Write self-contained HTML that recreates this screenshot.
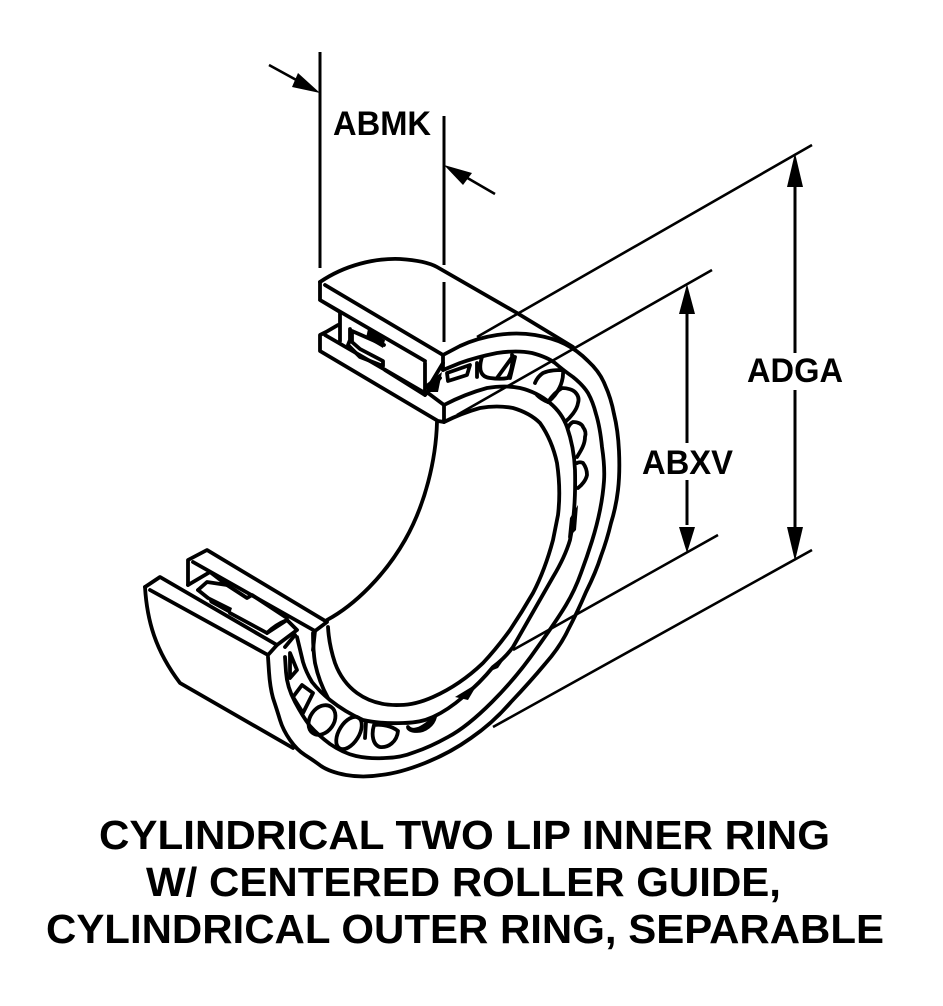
<!DOCTYPE html>
<html><head><meta charset="utf-8"><style>
html,body{margin:0;padding:0;background:#fff}
svg{display:block}
text{font-family:"Liberation Sans",sans-serif;font-weight:bold;fill:#000}
</style></head><body>
<svg width="943" height="1006" viewBox="0 0 943 1006" xmlns="http://www.w3.org/2000/svg">
<rect width="943" height="1006" fill="#fff"/>
<!-- dimension lines -->
<g fill="none" stroke="#000" stroke-width="3">
<path d="M320,52V268M444,116V265M444,282V342"/>
<path d="M795,180V353M795,390V530M687,310V443M687,480V525"/>
</g>
<g fill="none" stroke="#000" stroke-width="2.6">
<path d="M269,65L300,82M495,194L464,176"/>
<path d="M812,145L477,337M812,550L493,727"/>
<path d="M712,270L457,415M718,535L513,650"/>
</g>
<g fill="#000">
<path d="M320,93L292,87L298,73Z"/>
<path d="M444,165L472,173L463,185Z"/>
<path d="M795,153L803,187H787Z"/>
<path d="M795,561L803,527H787Z"/>
<path d="M687,284L695,314H679Z"/>
<path d="M687,553L695,527H679Z"/>
</g>
<!-- bearing -->
<g fill="none" stroke="#000" stroke-width="3.8" stroke-linejoin="round" stroke-linecap="round">
<!-- top outer block -->
<path d="M320,282C345,265 375,258 400,259C415,260 428,262 437,267L517,313L573,347"/>
<path d="M320,282V300L340,312M325,285L443,355V370M320,300L425,361"/>
<path d="M340,312V341M338,325L326,332L320,335V351L438,421L444,422V405L428,393"/>
<path d="M325,335L425,393V363"/>
<path d="M350,329V340L348,345L360,357L383,366V361L360,349L352,342V331L384,345"/>
<path d="M385,370L425,395"/>
<path d="M425,395L440,378M428,388L443,363"/>
<!-- outer ring outer edge -->
<path d="M443,355L460,346Q477,338 497,335Q517,332 535,335Q553,338 565,344Q577,350 588,361Q600,372 605,385Q611,398 614,414Q618,430 619,451Q620,473 618,490Q616,507 611,523Q607,540 601,556Q596,572 586,592Q577,613 568,630Q560,647 545,664Q530,682 511,702Q493,723 471,738Q450,753 425,763Q400,773 381,775Q363,778 346,775Q330,772 321,766Q313,760 305,755Q297,750 290,740Q283,730 280,720Q277,710 273,698Q270,687 269,672L268,657"/>
<!-- outer ring inner edge -->
<path d="M443,370L460,363Q477,357 497,353Q517,350 532,353Q547,357 555,363Q563,370 573,377Q583,385 588,393Q593,402 596,414Q600,427 602,447Q605,467 604,481Q603,495 600,510Q597,525 592,541Q587,557 581,573Q575,590 566,605Q557,620 537,648Q517,677 492,702Q467,727 448,737Q430,747 415,752Q400,758 385,758Q370,759 356,756Q343,753 330,744Q318,735 310,726Q303,717 295,702Q287,687 286,672L285,657"/>
<!-- cage line -->
<path d="M444,405Q465,394 487,388Q505,385 520,388Q537,392 550,403Q562,413 567,427Q574,447 575,470Q576,510 570,540Q565,557 553,577L513,647Q505,658 493,667Q480,683 463,697Q448,710 433,717Q420,723 403,723Q380,724 363,720Q345,712 330,700Q320,692 312,682Q306,672 303,662L297,637"/>
<!-- bore side -->
<path d="M444,422Q462,413 480,408Q497,405 513,408Q530,413 540,423Q552,440 557,463Q561,490 558,515Q555,530 553,540Q545,570 533,593Q522,612 510,630Q497,648 483,663Q460,685 433,697Q415,705 400,705Q375,706 357,693Q342,682 335,663Q329,645 328,627"/>
<path d="M313,633Q313,650 315,663Q319,682 328,698"/>
<!-- bore -->
<path d="M437,422C436,460 425,505 405,540C385,575 355,605 327,620"/>
<!-- rollers top -->
<path d="M482,357C478,370 481,377 490,378C497,379 503,379 508,378C512,370 513,362 512,355"/>
<path d="M535,383C537,378 540,375 543,373C550,370 557,370 563,370C564,382 558,394 548,402C543,400 540,398 537,395"/>
<path d="M548,402C552,396 557,391 562,388C568,388 573,390 575,392C579,396 579,400 578,403C577,410 570,418 565,422"/>
<path d="M568,428C569,425 571,423 573,422C578,422 582,424 583,427C586,431 586,434 585,437C585,445 580,452 577,457"/>
<path d="M577,463C579,462 581,462 583,463C586,467 587,471 587,475C586,480 582,485 578,488"/>
<path d="M447,373L470,365L467,375L448,381Z"/>
<path d="M477,363V377M515,357L510,378M513,356L497,378"/>
<!-- rollers bottom -->
<ellipse cx="322" cy="720" rx="12" ry="16" transform="rotate(35 322 720)"/>
<ellipse cx="349" cy="733" rx="10" ry="18" transform="rotate(32 349 733)"/>
<path d="M374,725C382,724 392,726 398,731C397,742 388,748 380,747C373,745 371,735 374,725Z"/>
<path d="M408,727C412,732 420,731 435,717C433,725 425,731 417,731C411,731 408,729 408,727Z"/>
<path d="M293,697L302,685L313,693L303,713Z"/>
<path d="M290,653L297,670L290,678Z"/>
<path d="M366,722L365,738"/>
<!-- bottom block -->
<path d="M145,587C147,620 155,650 180,683L293,748"/>
<path d="M145,587L160,577L277,645L268,655L150,590"/>
<path d="M188,585V560L207,550L327,622L315,631L193,562"/>
<path d="M188,585L210,572L227,585L247,598L252,595L287,618"/>
<path d="M198,590L207,582L227,585"/>
<path d="M198,590L208,598M230,613L267,633L287,620L297,630L277,645"/>
<path d="M267,633C275,625 282,622 287,620M285,647L295,635M315,631L313,650"/>
</g>
<path d="M206,595L232,608L230,614L210,603Z" fill="#000"/>
<path d="M368,329L385,340L383,348L366,338Z" fill="#000"/>
<path d="M425,385L442,372L438,392L428,392Z" fill="#000"/>
<path d="M490,668L507,655L498,668L488,672Z" fill="#000"/>
<path d="M455,697L478,683L468,700Z" fill="#000"/>
<path d="M570,518L578,505L576,530L568,538Z" fill="#000"/>
<!-- labels -->
<text x="333" y="135" font-size="34" textLength="98" lengthAdjust="spacingAndGlyphs">ABMK</text>
<text x="747" y="382" font-size="34" textLength="96" lengthAdjust="spacingAndGlyphs">ADGA</text>
<text x="642" y="474" font-size="34" textLength="91" lengthAdjust="spacingAndGlyphs">ABXV</text>
<text x="99" y="849" font-size="41" textLength="731" lengthAdjust="spacingAndGlyphs">CYLINDRICAL TWO LIP INNER RING</text>
<text x="146" y="896" font-size="41" textLength="635" lengthAdjust="spacingAndGlyphs">W/ CENTERED ROLLER GUIDE,</text>
<text x="46" y="943" font-size="41" textLength="838" lengthAdjust="spacingAndGlyphs">CYLINDRICAL OUTER RING, SEPARABLE</text>
</svg>
</body></html>
